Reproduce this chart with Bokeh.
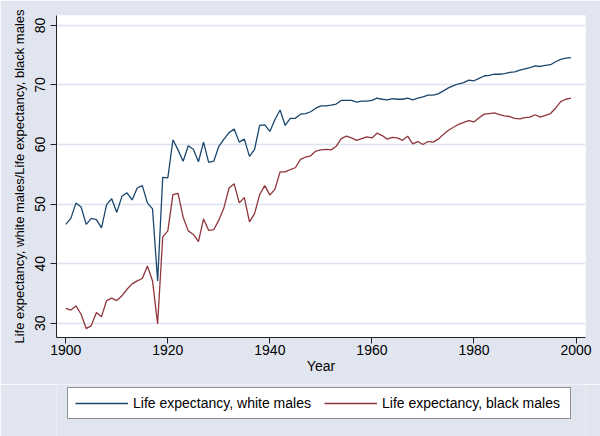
from bokeh.plotting import figure
from bokeh.layouts import column
from bokeh.models import Range1d, FixedTicker, Legend, LegendItem
from bokeh.embed import file_html
from bokeh.resources import INLINE

years = list(range(1900, 2000))
le_wmale = [46.6, 47.6, 50.2, 49.5, 46.6, 47.6, 47.4, 46.0, 49.9, 50.9,
            48.6, 51.3, 51.9, 50.7, 52.7, 53.1, 50.2, 49.2, 37.1, 54.5,
            54.4, 60.8, 59.1, 57.2, 59.8, 59.2, 57.1, 60.4, 57.0, 57.2,
            59.7, 60.9, 62.0, 62.6, 60.4, 60.9, 58.0, 59.2, 63.2, 63.3,
            62.2, 64.2, 65.8, 63.2, 64.4, 64.4, 65.1, 65.2, 65.5, 66.1,
            66.5, 66.5, 66.6, 66.8, 67.4, 67.4, 67.4, 67.1, 67.3, 67.3,
            67.4, 67.8, 67.6, 67.5, 67.7, 67.6, 67.6, 67.8, 67.5, 67.8,
            68.0, 68.3, 68.3, 68.5, 69.0, 69.5, 69.9, 70.2, 70.4, 70.8,
            70.7, 71.1, 71.5, 71.6, 71.8, 71.8, 71.9, 72.1, 72.2, 72.5,
            72.7, 72.9, 73.2, 73.1, 73.3, 73.4, 73.9, 74.3, 74.5, 74.6]
le_bmale = [32.5, 32.2, 32.9, 31.5, 29.1, 29.6, 31.8, 31.1, 33.8, 34.2,
            33.8, 34.6, 35.7, 36.6, 37.1, 37.5, 39.6, 37.1, 29.9, 44.5,
            45.5, 51.6, 51.8, 47.8, 45.5, 44.9, 43.7, 47.5, 45.6, 45.7,
            47.3, 49.4, 52.7, 53.4, 50.2, 51.1, 47.0, 48.4, 51.6, 53.1,
            51.5, 52.5, 55.4, 55.4, 55.8, 56.1, 57.5, 57.9, 58.1, 58.9,
            59.1, 59.2, 59.1, 59.7, 61.0, 61.4, 61.1, 60.7, 61.0, 61.3,
            61.1, 61.9, 61.5, 60.9, 61.2, 61.1, 60.7, 61.4, 60.1, 60.5,
            60.0, 60.5, 60.4, 60.9, 61.7, 62.4, 62.9, 63.4, 63.7, 64.0,
            63.8, 64.5, 65.1, 65.2, 65.3, 65.0, 64.8, 64.7, 64.4, 64.3,
            64.5, 64.6, 65.0, 64.6, 64.9, 65.2, 66.1, 67.2, 67.6, 67.8]
x_ticks = [1900, 1920, 1940, 1960, 1980, 2000]
y_ticks = [30, 40, 50, 60, 70, 80]
series_labels = ["Life expectancy, white males", "Life expectancy, black males"]
series_colors = ["#1a476f", "#90353b"]

FONT = "Liberation Sans"
FS = "14px"
BG = "#e0e5ef"

p = figure(width=600, height=384, output_backend="svg", toolbar_location=None,
           x_range=Range1d(1898.18, 2001.86), y_range=Range1d(27.6, 81.66),
           min_border_left=56, min_border_right=15, min_border_top=15,
           min_border_bottom=47)
p.background_fill_color = "white"
p.border_fill_color = BG
p.outline_line_color = None

p.line(years, le_wmale, line_color=series_colors[0], line_width=1.3)
p.line(years, le_bmale, line_color=series_colors[1], line_width=1.3)

p.xgrid.grid_line_color = None
p.ygrid.grid_line_color = "#dde3ef"
p.ygrid.grid_line_width = 1.5

p.xaxis.ticker = FixedTicker(ticks=x_ticks)
p.yaxis.ticker = FixedTicker(ticks=y_ticks)
for ax in (p.xaxis[0], p.yaxis[0]):
    ax.axis_line_color = "#222222"
    ax.major_tick_line_color = "#222222"
    ax.major_tick_out = 6
    ax.major_tick_in = 0
    ax.minor_tick_line_color = None
    ax.major_label_text_font = FONT
    ax.major_label_text_font_size = FS
    ax.major_label_text_color = "black"
    ax.axis_label_text_font = FONT
    ax.axis_label_text_font_size = FS
    ax.axis_label_text_font_style = "normal"
    ax.axis_label_text_color = "black"

p.xaxis.axis_label = "Year"
p.xaxis.major_label_standoff = 1
p.xaxis.axis_label_standoff = 0
p.yaxis.axis_label = "Life expectancy, white males/Life expectancy, black males"
p.yaxis.axis_label_text_font_size = "13px"
p.yaxis.major_label_orientation = "vertical"
p.yaxis.major_label_standoff = 5
p.yaxis.axis_label_standoff = 6

# legend strip below the chart
p2 = figure(width=600, height=52, output_backend="svg", toolbar_location=None,
            x_range=Range1d(0, 1), y_range=Range1d(0, 1),
            x_axis_location=None, y_axis_location=None,
            min_border_left=0, min_border_right=0, min_border_top=0,
            min_border_bottom=0)
p2.grid.visible = False
p2.outline_line_color = None
p2.background_fill_color = BG
p2.border_fill_color = BG
# same series, outside this strip's ranges: only their legend glyphs show
l1 = p2.line(years, le_wmale, line_color=series_colors[0], line_width=1.3)
l2 = p2.line(years, le_bmale, line_color=series_colors[1], line_width=1.3)

legend = Legend(items=[LegendItem(label=series_labels[0], renderers=[l1]),
                       LegendItem(label=series_labels[1], renderers=[l2])],
                orientation="horizontal", location=(11, 17))
legend.label_text_font = FONT
legend.label_text_font_size = FS
legend.label_text_color = "black"
legend.glyph_width = 53
legend.glyph_height = 14
legend.label_height = 14
legend.label_width = 181
legend.label_standoff = 5
legend.spacing = 10
legend.padding = 7
legend.margin = 0
legend.border_line_color = "#222222"
legend.border_line_width = 1
legend.background_fill_color = "white"
legend.background_fill_alpha = 1
p2.add_layout(legend)

layout = column(p, p2, spacing=0)
open("out.html", "w").write(file_html(layout, INLINE))
